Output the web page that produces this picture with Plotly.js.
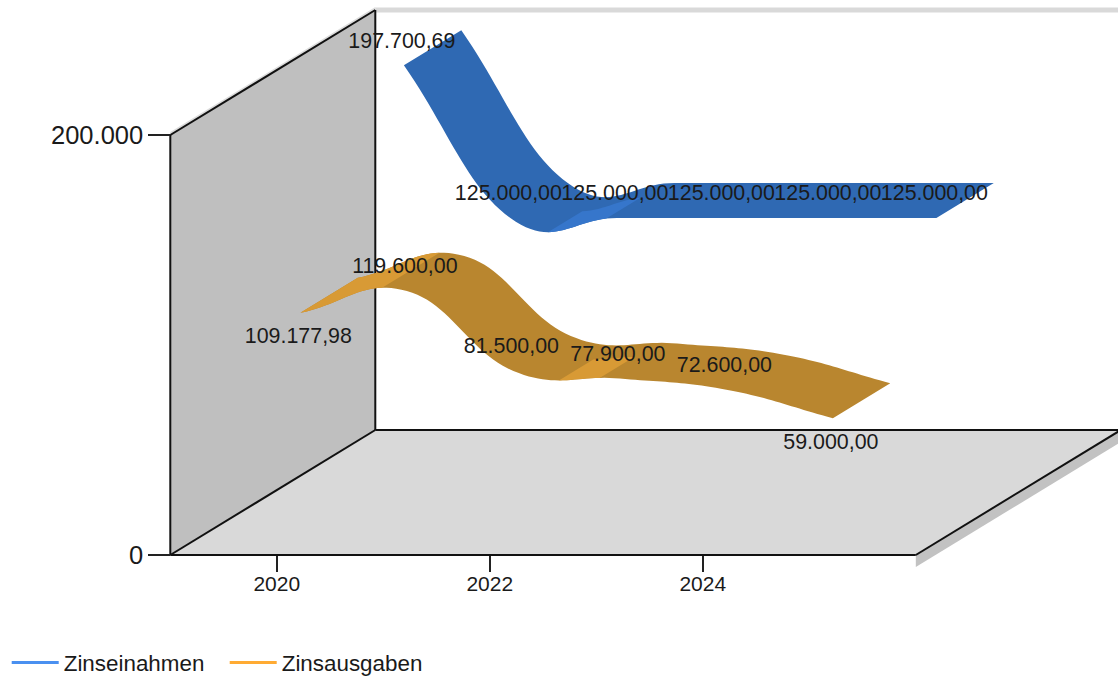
<!DOCTYPE html>
<html>
<head>
<meta charset="utf-8">
<script src="https://cdn.plot.ly/plotly-3.0.1.min.js"></script>
<style>html,body{margin:0;padding:0;background:#fff}#chart{width:1118px;height:676px}</style>
</head>
<body>
<div id="chart"></div>
<script>
const years = [2020, 2021, 2022, 2023, 2024, 2025];
const zinseinnahmen = [197700.69, 125000, 125000, 125000, 125000, 125000];
const zinsausgaben = [109177.98, 119600, 81500, 77900, 72600, 59000];
const labelsEinnahmen = ['197.700,69', '125.000,00', '125.000,00', '125.000,00', '125.000,00', '125.000,00'];
const labelsAusgaben = ['109.177,98', '119.600,00', '81.500,00', '77.900,00', '72.600,00', '59.000,00'];
const labelSideAusgaben = [1, -1, -1, -1, -1, 1];
const labelSideEinnahmen = [-1, -1, -1, -1, -1, -1];
const xTicks = [2020, 2022, 2024];
const yTicks = [0, 200000];
const yTickLabels = ['0', '200.000'];

// projection of the pseudo 3D box
const W = 1118, H = 676;
const pxYear = 106.5, pxValue = 0.0021;
const x0px = 170.3, y0px = 555;
const depthYears = 205 / pxYear, depthValue = 125 / pxValue;
const boxX = [2019, 2026], boxTop = 200000;
const TENSION = 1.25;
// front depth, back depth, downward nudge of the ribbon in pixels
const bandA = [0.115, 0.395, 1.5], bandE = [0.62, 0.90, 3];

const px = (d, x, y) => [x + d * depthYears, y + d * depthValue];

function sampleSpline(xs, ys) {
  const n = xs.length, out = [], N = 24;
  const tan = (a, i) => i === 0 ? TENSION * (a[1] - a[0]) / 3
    : i === n - 1 ? TENSION * (a[n - 1] - a[n - 2]) / 3
    : TENSION * (a[i + 1] - a[i - 1]) / 6;
  for (let i = 0; i < n - 1; i++) {
    const x1 = xs[i] + tan(xs, i), x2 = xs[i + 1] - tan(xs, i + 1);
    const y1 = ys[i] + tan(ys, i), y2 = ys[i + 1] - tan(ys, i + 1);
    for (let k = (i ? 1 : 0); k <= N; k++) {
      const s = k / N, u = 1 - s;
      const b0 = u * u * u, b1 = 3 * u * u * s, b2 = 3 * u * s * s, b3 = s * s * s;
      out.push([b0 * xs[i] + b1 * x1 + b2 * x2 + b3 * xs[i + 1],
                b0 * ys[i] + b1 * y1 + b2 * y2 + b3 * ys[i + 1]]);
    }
  }
  return out;
}

function quad(pts, band, color) {
  const nudge = band[2] / pxValue;
  const f = pts.map(p => px(band[0], p[0], p[1] - nudge));
  const b = pts.map(p => px(band[1], p[0], p[1] - nudge)).reverse();
  const all = f.concat(b);
  all.push(all[0]);
  return {
    type: 'scatter', mode: 'lines', x: all.map(p => p[0]), y: all.map(p => p[1]),
    fill: 'toself', fillcolor: color, line: {width: 0, color: color, simplify: false},
    hoverinfo: 'skip', showlegend: false
  };
}

// rising stretches of the ribbon show its lighter underside; after a fall the fold hides the back part
function ribbon(values, band, dark, light) {
  const pts = sampleSpline(years, values);
  const traces = [quad(pts, band, dark)];
  let start = null;
  for (let i = 1; i <= pts.length; i++) {
    const rising = i < pts.length && pts[i][1] > pts[i - 1][1];
    if (rising && start === null) start = i - 1;
    if (!rising && start !== null) {
      if (pts[i - 1][1] - pts[start][1] > 500) {
        let end = i;
        let facetBand = band;
        if (start > 0) {
          let maxStep = 0;
          for (let k = start + 1; k < i; k++) maxStep = Math.max(maxStep, pts[k][1] - pts[k - 1][1]);
          while (end - 1 > start + 1 && pts[end - 1][1] - pts[end - 2][1] < 0.35 * maxStep) end--;
          facetBand = [band[0], band[0] + 0.6 * (band[1] - band[0]), band[2]];
        }
        traces.push(quad(pts.slice(start, end), facetBand, light));
      }
      start = null;
    }
  }
  return traces;
}

function poly(corners, color) {
  const c = corners.concat([corners[0]]);
  return {type: 'scatter', mode: 'lines', x: c.map(p => p[0]), y: c.map(p => p[1]),
    fill: 'toself', fillcolor: color, line: {width: 0, color: color}, hoverinfo: 'skip', showlegend: false};
}
function edge(a, b, color, width) {
  return {type: 'scatter', mode: 'lines', x: [a[0], b[0]], y: [a[1], b[1]],
    line: {color: color, width: width}, hoverinfo: 'skip', showlegend: false};
}
function labelTrace(values, texts, sides, band) {
  const pts = values.map((v, i) => px(band[0], years[i], v));
  return {
    type: 'scatter', mode: 'text',
    x: pts.map(p => p[0] - 2 / pxYear),
    y: pts.map((p, i) => p[1] - (sides[i] * 24 + band[2] + 1) / pxValue),
    text: texts, textposition: 'middle center', cliponaxis: false,
    textfont: {family: 'Liberation Sans, Arial, sans-serif', size: 21.4, color: '#1a1a1a'},
    hoverinfo: 'skip', showlegend: false
  };
}

const [xa, xb] = boxX;
const lip = 12 / pxValue, wallLip = 3 / pxValue;
const traces = [
  poly([px(0, xb, 0), px(1, xb, 0), px(1, xb, -lip), px(0, xb, -lip)], '#c2c2c2'),
  poly([px(0, xa, boxTop), px(1, xa, boxTop), px(1, xa, boxTop + wallLip), px(0, xa, boxTop + wallLip)], '#dcdcdc'),
  edge(px(1, xa, boxTop), px(1, xb, boxTop), '#d9d9d9', 5),
  poly([px(0, xa, 0), px(0, xa, boxTop), px(1, xa, boxTop), px(1, xa, 0)], '#bfbfbf'),
  poly([px(0, xa, 0), px(0, xb, 0), px(1, xb, 0), px(1, xa, 0)], '#d9d9d9'),
  edge(px(0, xa, 0), px(0, xa, boxTop), '#111', 2),
  edge(px(0, xa, boxTop), px(1, xa, boxTop), '#111', 2),
  edge(px(1, xa, boxTop), px(1, xa, 0), '#111', 2),
  edge(px(0, xa, 0), px(1, xa, 0), '#111', 2),
  edge(px(1, xa, 0), px(1, xb, 0), '#111', 2),
  edge(px(0, xb, 0), px(1, xb, 0), '#111', 2),
  edge(px(0, xa, 0), px(0, xb, 0), '#111', 2),
  ...ribbon(zinsausgaben, bandA, '#b9862f', '#d89a35'),
  ...ribbon(zinseinnahmen, bandE, '#2f69b3', '#3676cb'),
  labelTrace(zinsausgaben, labelsAusgaben, labelSideAusgaben, bandA),
  labelTrace(zinseinnahmen, labelsEinnahmen, labelSideEinnahmen, bandE),
  {type: 'scatter', mode: 'lines', name: 'Zinseinahmen', x: [null], y: [null], line: {color: '#4a90f0', width: 3}},
  {type: 'scatter', mode: 'lines', name: 'Zinsausgaben', x: [null], y: [null], line: {color: '#ffab33', width: 3}}
];

const layout = {
  width: W, height: H,
  margin: {l: 0, r: 0, t: 0, b: 0, autoexpand: false},
  paper_bgcolor: '#fff', plot_bgcolor: '#fff',
  font: {family: 'Liberation Sans, Arial, sans-serif', color: '#1a1a1a'},
  xaxis: {
    range: [2019 - x0px / pxYear, 2019 + (W - x0px) / pxYear],
    anchor: 'free', position: (H - y0px) / H,
    tickvals: xTicks, ticktext: xTicks.map(String),
    showgrid: false, zeroline: false, showline: false,
    ticks: 'outside', ticklen: 16, tickwidth: 2, tickcolor: '#222', ticklabelstandoff: -6,
    tickfont: {size: 21, color: '#1a1a1a'}, fixedrange: true
  },
  yaxis: {
    range: [-(H - y0px) / pxValue, y0px / pxValue],
    anchor: 'free', position: x0px / W,
    tickvals: yTicks, ticktext: yTickLabels,
    showgrid: false, zeroline: false, showline: false,
    ticks: 'outside', ticklen: 22, tickwidth: 2, tickcolor: '#222',
    tickfont: {size: 25.5, color: '#1a1a1a'}, fixedrange: true
  },
  showlegend: true,
  legend: {
    orientation: 'h', x: 0.006, y: 13 / H, xanchor: 'left', yanchor: 'middle',
    font: {size: 22.4, color: '#1a1a1a'}, bgcolor: 'rgba(0,0,0,0)', itemwidth: 47,
    entrywidth: 156, entrywidthmode: 'pixels', traceorder: 'normal'
  }
};
Plotly.newPlot('chart', traces, layout, {displayModeBar: false, staticPlot: true});
</script>
</body>
</html>
